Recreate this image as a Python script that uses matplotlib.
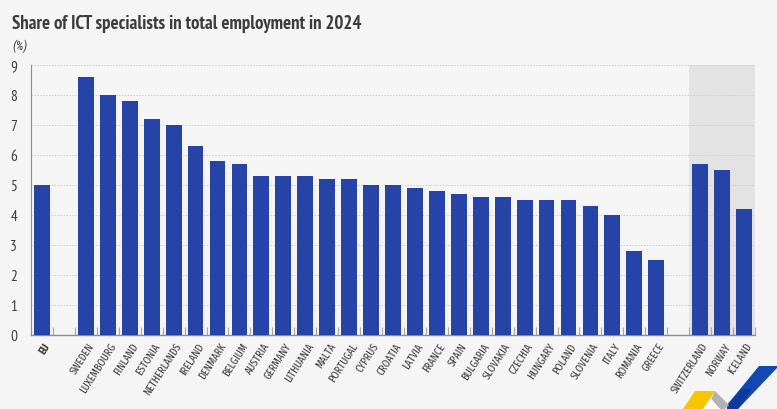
import matplotlib
matplotlib.use('Agg')
import matplotlib.pyplot as plt
from matplotlib.patches import Polygon, Rectangle

# Values, blank strings are the gaps between groups
countries = ['EU', '', 'SWEDEN', 'LUXEMBOURG', 'FINLAND', 'ESTONIA', 'NETHERLANDS', 'IRELAND',
             'DENMARK', 'BELGIUM', 'AUSTRIA', 'GERMANY', 'LITHUANIA', 'MALTA', 'PORTUGAL',
             'CYPRUS', 'CROATIA', 'LATVIA', 'FRANCE', 'SPAIN', 'BULGARIA', 'SLOVAKIA',
             'CZECHIA', 'HUNGARY', 'POLAND', 'SLOVENIA', 'ITALY', 'ROMANIA', 'GREECE', '',
             'SWITZERLAND', 'NORWAY', 'ICELAND']
shares = [5.0, 0, 8.6, 8.0, 7.8, 7.2, 7.0, 6.3, 5.8, 5.7, 5.3, 5.3, 5.3, 5.2, 5.2, 5.0, 5.0,
          4.9, 4.8, 4.7, 4.6, 4.6, 4.5, 4.5, 4.5, 4.3, 4.0, 2.8, 2.5, 0, 5.7, 5.5, 4.2]
y_ticks = [0, 1, 2, 3, 4, 5, 6, 7, 8, 9]

plt.rcParams['font.family'] = ['PT Sans Narrow', 'Roboto Condensed', 'Liberation Sans', 'DejaVu Sans']
bg = '#f5f5f5'
text_col = '#3c3c3c'
label_fonts = ['Fira Sans Extra Condensed', 'PT Sans Narrow', 'Liberation Sans', 'DejaVu Sans']

fig = plt.figure(figsize=(7.77, 4.10), dpi=100, facecolor=bg)
W, H = 777, 410
ax = fig.add_axes([31 / W, (H - 336) / H, 724 / W, 270 / H], facecolor='none')

n = len(countries)
positions = list(range(n))
ax.set_xlim(-0.5, n - 0.5)
ax.set_ylim(0, 9)

# Shaded block behind the non-EU countries
ax.add_patch(Rectangle((n - 3.5, 0), 3, 9, facecolor='#e3e3e3', edgecolor='none', zorder=0))

ax.yaxis.grid(True, color='#cccccc', linestyle=(0, (1.5, 1.5)), linewidth=0.7, zorder=1)
ax.bar(positions, shares, width=0.72, color='#2644a7', zorder=3)

ax.set_yticks(y_ticks)
ax.set_yticklabels([str(v) for v in y_ticks], fontsize=11, color=text_col)
ax.tick_params(axis='y', length=0, pad=10)

ax.set_xticks([p - 0.5 for p in positions] + [n - 0.5], minor=False)
ax.set_xticklabels([])
ax.tick_params(axis='x', direction='in', length=6, color='#a8a8a8', width=0.8)

for p, name in zip(positions, countries):
    ax.annotate(name, (p, 0), xytext=(1, -4), textcoords='offset points', rotation=57,
                ha='right', va='top', rotation_mode='anchor', fontsize=8, color=text_col,
                family=label_fonts, fontweight='bold' if name == 'EU' else 'normal')

for side in ['top', 'right']:
    ax.spines[side].set_visible(False)
ax.spines['left'].set_color('#8c8c8c')
ax.spines['bottom'].set_color('#8c8c8c')
ax.spines['left'].set_linewidth(0.8)
ax.spines['bottom'].set_linewidth(1.0)

fig.text(12 / W, 1 - 24 / H, 'Share of ICT specialists in total employment in 2024', fontsize=13.6,
         fontweight='bold', color=text_col, ha='left', va='center')
fig.text(12 / W, 1 - 46 / H, '(%)', fontsize=9, fontstyle='italic', color=text_col, ha='left', va='center',
         family=['Roboto Condensed', 'Liberation Sans', 'DejaVu Sans'])


# Corner logo, in pixel coordinates of the figure
def corner_shape(points, color):
    fig.add_artist(Polygon([(x / W, 1 - y / H) for x, y in points], closed=True,
                           facecolor=color, edgecolor='none', transform=fig.transFigure))


corner_shape([(759, 367), (777, 367), (777, 369), (738, 410), (727, 410), (727, 406)], '#1148b4')
corner_shape([(727, 406), (742, 390), (752, 390), (738, 410), (727, 410)], '#0d3a9c')
corner_shape([(695, 392), (715, 392), (703, 410), (683, 410)], '#f7c600')
corner_shape([(715, 392), (729, 406), (725, 410), (720, 410), (711, 400)], '#b2b2b2')
corner_shape([(703, 410), (711, 400), (720, 410)], '#ffffff')

fig.savefig('out.png', dpi=100, facecolor=bg)
